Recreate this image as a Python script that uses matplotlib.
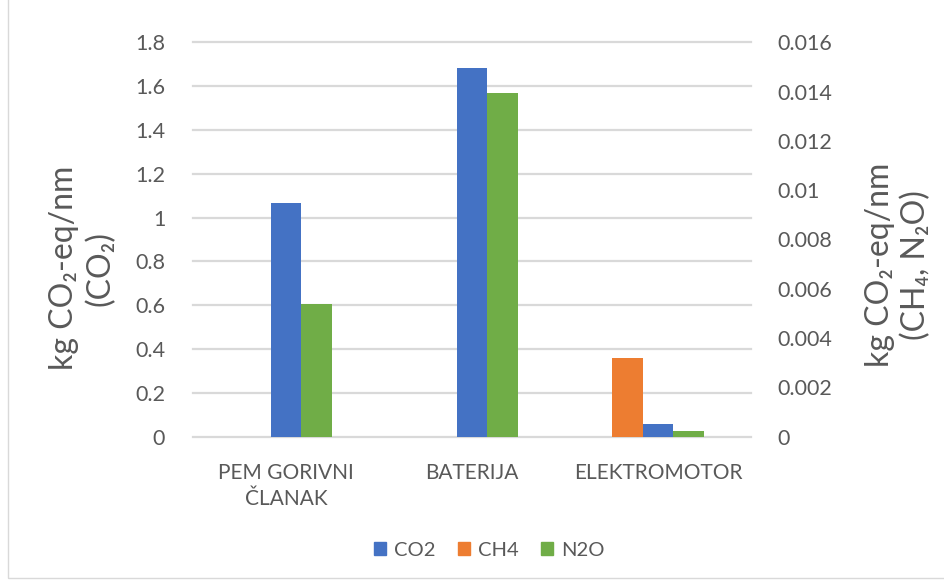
import numpy as np
import matplotlib
matplotlib.use('Agg')
import matplotlib.pyplot as plt
from matplotlib.patches import Rectangle, Patch

categories = ['PEM GORIVNI\nČLANAK', 'BATERIJA', 'ELEKTROMOTOR']
co2 = [1.068, 1.681, 0.057]        # left axis
ch4 = [0.0, 0.0, 0.00321]          # right axis
n2o = [0.00538, 0.01396, 0.00022]  # right axis
left_ticks = [0, 0.2, 0.4, 0.6, 0.8, 1, 1.2, 1.4, 1.6, 1.8]
right_ticks = [0, 0.002, 0.004, 0.006, 0.008, 0.01, 0.012, 0.014, 0.016]

blue, orange, green = '#4472C4', '#ED7D31', '#70AD47'
txt = '#595959'
grid = '#D9D9D9'
fam = ['Lato', 'DejaVu Sans']
plt.rcParams['font.family'] = fam

fig = plt.figure(figsize=(9.45, 5.81), dpi=100)
ax = fig.add_axes([193/945, 144.3/581, 558/945, 394.4/581])
ax2 = ax.twinx()

x = np.arange(len(categories))
w = 0.165
ax.bar(x, co2, w, color=blue, zorder=3)
ax2.bar(x - w, ch4, w, color=orange, zorder=3)
ax2.bar(x + w, n2o, w, color=green, zorder=3)

ax.set_xlim(-0.5, 2.5)
ax.set_ylim(0, 1.8)
ax2.set_ylim(0, 0.016)
ax.set_yticks(left_ticks)
ax.set_yticklabels([f'{v:g}' for v in left_ticks])
ax2.set_yticks(right_ticks)
ax2.set_yticklabels([f'{v:g}' for v in right_ticks])
ax.set_xticks(x)
ax.set_xticklabels(categories, linespacing=1.35)

for a in (ax, ax2):
    for s in a.spines.values():
        s.set_visible(False)
    a.tick_params(length=0, colors=txt, labelsize=15.5)
ax.tick_params(axis='y', pad=20)
ax2.tick_params(axis='y', pad=19)
ax.tick_params(axis='x', pad=19, labelsize=15)

ax.yaxis.grid(True, color=grid, lw=1.6, zorder=0)
for ln in ax.get_ygridlines():
    ln.set_clip_on(False)
ax.set_axisbelow(True)

fig.text(82/945, 1 - 268/581, 'kg CO₂-eq/nm\n(CO₂)', rotation=90,
         ha='center', va='center', ma='center', fontsize=23, color=txt,
         linespacing=1.25)
fig.text(898/945, 1 - 265/581, 'kg CO₂-eq/nm\n(CH₄, N₂O)', rotation=90,
         ha='center', va='center', ma='center', fontsize=23, color=txt,
         linespacing=1.25)

handles = [Patch(color=blue, label='CO2'), Patch(color=orange, label='CH4'),
           Patch(color=green, label='N2O')]
leg = fig.legend(handles=handles, loc='center', bbox_to_anchor=(489/945, 1 - 550/581),
                 ncol=3, frameon=False, fontsize=14.5, handlelength=0.6,
                 handleheight=0.6, handletextpad=0.4, columnspacing=1.1)
for t in leg.get_texts():
    t.set_color(txt)

fig.add_artist(Rectangle((8/945, 3/581), 2, 2, transform=fig.transFigure,
                         fill=False, edgecolor=grid, lw=1))

fig.savefig('out.png', dpi=100)
